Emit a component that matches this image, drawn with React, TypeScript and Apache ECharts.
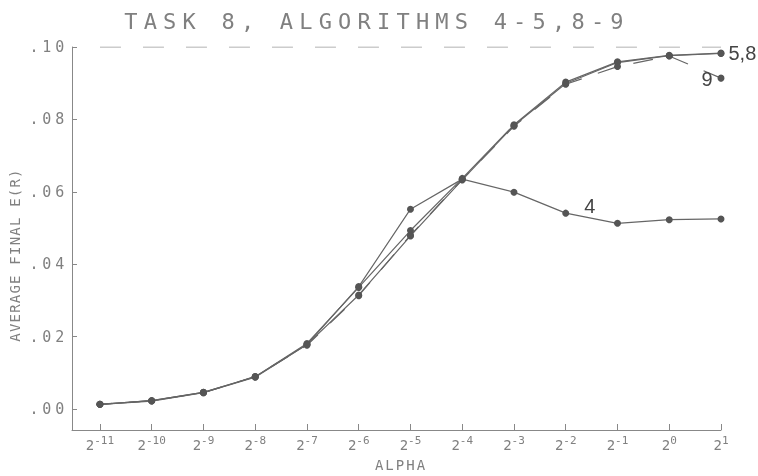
import React, { useEffect, useRef } from 'react';
import * as echarts from 'echarts';

// alpha = 2^k
const alphaExponents = [-11, -10, -9, -8, -7, -6, -5, -4, -3, -2, -1, 0, 1];
const alg4 = [0.0013, 0.0023, 0.0046, 0.0089, 0.0178, 0.0338, 0.0552, 0.0635, 0.0599, 0.0541, 0.0513, 0.0523, 0.0525];
const alg5 = [0.0013, 0.0023, 0.0046, 0.0089, 0.0181, 0.0336, 0.0493, 0.0637, 0.0785, 0.0903, 0.0959, 0.0977, 0.0983];
const alg8 = [0.0013, 0.0022, 0.0045, 0.0088, 0.0178, 0.0315, 0.0478, 0.0633, 0.0783, 0.0899, 0.0957, 0.0976, 0.0982];
const alg9 = [0.0013, 0.0023, 0.0045, 0.0090, 0.0176, 0.0313, 0.0480, 0.0634, 0.0781, 0.0897, 0.0946, 0.0975, 0.0914];
const yTicks = [0, 0.02, 0.04, 0.06, 0.08, 0.10];
const referenceLevel = 0.10;
const titleText = 'TASK 8, ALGORITHMS 4-5,8-9';
const yName = 'AVERAGE FINAL E(R)';
const xName = 'ALPHA';

const PLOT_FONT = '"DejaVu Sans Mono", monospace';
const GRAY = '#808080';
const AXIS = '#888';
const LABEL_FONT = '"Liberation Sans", Arial, sans-serif';

export default function App() {
  const ref = useRef<HTMLDivElement>(null);
  useEffect(() => {
    const el = ref.current!;
    const chart = echarts.init(el, null, { renderer: 'svg' });
    const pts = (arr: number[]) => arr.map((v, i) => [alphaExponents[i], v]);
    const withLabel = (arr: number[], idx: number, label: any) =>
      pts(arr).map((p, i) => (i === idx ? { value: p, label } : p));
    const endLabelStyle = { show: true, fontSize: 20, fontFamily: LABEL_FONT, color: '#444' };
    const base = {
      type: 'line',
      silent: true,
      symbol: 'circle',
      symbolSize: 7,
      itemStyle: { color: '#555' },
      lineStyle: { color: '#666', width: 1.2 },
      z: 3,
    };
    const option: any = {
      animation: false,
      grid: { left: 72, right: 37, top: 47, bottom: 46, containLabel: false },
      xAxis: {
        type: 'value',
        min: -11.54,
        max: 1,
        axisLine: { show: true, onZero: false, lineStyle: { color: AXIS, width: 1 } },
        splitLine: { show: false },
        axisTick: { show: true, inside: true, length: 6, customValues: alphaExponents, lineStyle: { color: AXIS } },
        axisLabel: {
          customValues: alphaExponents,
          margin: 5,
          formatter: (v: number) => `{b|2}{s|${v}}`,
          rich: {
            b: { fontFamily: PLOT_FONT, fontSize: 14, color: GRAY, lineHeight: 20 },
            s: { fontFamily: PLOT_FONT, fontSize: 11, color: GRAY, lineHeight: 12, verticalAlign: 'top' },
          },
        },
      },
      yAxis: {
        type: 'value',
        min: -0.0058,
        max: 0.1,
        axisLine: { show: true, onZero: false, lineStyle: { color: AXIS, width: 1 } },
        splitLine: { show: false },
        axisTick: { show: true, inside: true, length: 5, customValues: yTicks, lineStyle: { color: AXIS } },
        axisLabel: {
          customValues: yTicks,
          margin: 4,
          fontFamily: PLOT_FONT,
          fontSize: 15,
          color: GRAY,
          formatter: (v: number) => '.' + String(Math.round(v * 100)).padStart(2, '0'),
        },
      },
      graphic: [
        {
          type: 'text', x: 377, y: 21, silent: true,
          style: { text: titleText, fontFamily: PLOT_FONT, fontSize: 22, fill: GRAY, align: 'center', verticalAlign: 'middle' },
        },
        {
          type: 'text', x: 15, y: 255, rotation: Math.PI / 2, silent: true,
          style: { text: yName, fontFamily: PLOT_FONT, fontSize: 14, fill: GRAY, align: 'center', verticalAlign: 'middle' },
        },
        {
          type: 'text', x: 401, y: 465, silent: true,
          style: { text: xName, fontFamily: PLOT_FONT, fontSize: 14, fill: GRAY, align: 'center', verticalAlign: 'middle' },
        },
      ],
      series: [
        {
          type: 'line', silent: true, symbol: 'none', z: 1,
          data: [[alphaExponents[0], referenceLevel], [alphaExponents[alphaExponents.length - 1], referenceLevel]],
          lineStyle: { color: '#999', width: 1.2, type: [21, 22] },
        },
        {
          ...base, name: '4',
          data: withLabel(alg4, 9, { ...endLabelStyle, formatter: '4', position: 'inside', offset: [24, -7] }),
        },
        {
          ...base, name: '5',
          data: withLabel(alg5, 12, { ...endLabelStyle, formatter: '5,8', position: 'right', distance: 4 }),
        },
        { ...base, name: '8', data: pts(alg8) },
        {
          ...base, name: '9',
          lineStyle: { color: '#666', width: 1.2, type: [20, 17], dashOffset: 8.2 },
          data: withLabel(alg9, 12, { ...endLabelStyle, formatter: '9', position: 'left', distance: 5, offset: [0, 1] }),
        },
      ],
    };
    chart.setOption(option);
    const applySpacing = () => {
      el.querySelectorAll('text').forEach((t) => {
        const s = t.textContent || '';
        const st = (t as SVGTextElement).style;
        if (s === titleText) st.letterSpacing = '6.2px';
        else if (s === yName) st.letterSpacing = '1.2px';
        else if (s === xName) st.letterSpacing = '2px';
        else if (/^\.\d\d$/.test(s)) st.letterSpacing = '3.8px';
      });
    };
    applySpacing();
    chart.on('finished', applySpacing);
    return () => chart.dispose();
  }, []);
  return <div ref={ref} style={{ position: 'fixed', left: 0, top: 0, width: 758, height: 476 }} />;
}
